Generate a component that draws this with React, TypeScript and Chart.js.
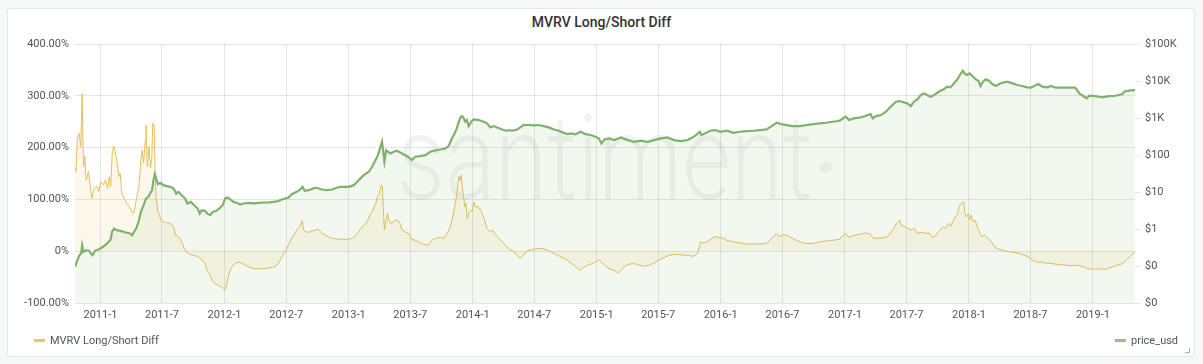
import React, { useEffect, useRef } from "react";
import { Chart, registerables } from "chart.js";
Chart.register(...registerables);

const chartTitle = "MVRV Long/Short Diff";
const watermarkText = "santiment";

const mvrvDates = [
  "2010-10-18","2010-10-21","2010-10-25","2010-10-30","2010-11-04","2010-11-08","2010-11-12","2010-11-16","2010-11-20","2010-11-27",
  "2010-12-02","2010-12-07","2010-12-13","2010-12-21","2010-12-27","2011-01-02","2011-01-10","2011-01-16","2011-01-22","2011-01-27",
  "2011-01-31","2011-02-05","2011-02-09","2011-02-13","2011-02-18","2011-02-24","2011-02-28","2011-03-05","2011-03-12","2011-03-20",
  "2011-03-27","2011-04-04","2011-04-08","2011-04-13","2011-04-18","2011-04-24","2011-04-30","2011-05-04","2011-05-08","2011-05-13",
  "2011-05-15","2011-05-19","2011-05-24","2011-05-28","2011-06-01","2011-06-04","2011-06-08","2011-06-11","2011-06-14","2011-06-18",
  "2011-06-22","2011-06-28","2011-07-05","2011-07-15","2011-07-25","2011-08-04","2011-08-10","2011-08-19","2011-08-28","2011-09-07",
  "2011-09-17","2011-10-02","2011-10-17","2011-10-26","2011-11-05","2011-11-10","2011-11-18","2011-11-25","2011-12-05","2011-12-14",
  "2011-12-24","2011-12-29","2012-01-03","2012-01-06","2012-01-10","2012-01-16","2012-01-23","2012-02-02","2012-02-11","2012-02-21",
  "2012-03-02","2012-03-17","2012-03-31","2012-04-15","2012-04-30","2012-05-15","2012-05-29","2012-06-08","2012-06-18","2012-06-28",
  "2012-07-08","2012-07-17","2012-08-01","2012-08-11","2012-08-17","2012-08-21","2012-08-29","2012-09-09","2012-09-24","2012-10-04",
  "2012-10-14","2012-10-24","2012-11-07","2012-11-22","2012-12-07",
  "2013-01-01","2013-01-16","2013-01-26","2013-02-04","2013-02-14","2013-02-24","2013-03-06","2013-03-13","2013-03-19","2013-03-23",
  "2013-03-26","2013-03-30","2013-04-03","2013-04-07","2013-04-10","2013-04-13","2013-04-16","2013-04-20","2013-04-25","2013-04-29",
  "2013-05-04","2013-05-13","2013-05-23","2013-05-30","2013-06-07","2013-06-17","2013-06-27","2013-07-05","2013-07-16","2013-07-26",
  "2013-08-10","2013-08-23","2013-09-03","2013-09-13","2013-09-28","2013-10-08","2013-10-18","2013-10-27","2013-11-03","2013-11-09",
  "2013-11-14","2013-11-18","2013-11-21","2013-11-25","2013-11-28","2013-12-01","2013-12-05","2013-12-09","2013-12-12","2013-12-16",
  "2013-12-20","2013-12-25","2013-12-30","2014-01-05","2014-01-09","2014-01-17","2014-01-25","2014-02-02","2014-02-12","2014-02-22",
  "2014-03-01","2014-03-07","2014-03-19","2014-04-02","2014-04-17","2014-05-02","2014-05-12","2014-05-21","2014-05-31","2014-06-10",
  "2014-06-25","2014-07-10","2014-07-24","2014-08-13","2014-09-02","2014-09-21","2014-10-06","2014-10-21","2014-11-01","2014-11-12",
  "2014-11-19","2014-12-04","2014-12-19","2014-12-28","2015-01-07",
  "2015-01-24","2015-02-07","2015-02-21","2015-03-06","2015-03-14","2015-03-24","2015-04-07","2015-04-22","2015-05-06","2015-05-21",
  "2015-06-05","2015-06-19","2015-07-04","2015-07-19","2015-08-02","2015-08-17","2015-09-05","2015-09-25","2015-10-14","2015-10-24",
  "2015-10-30","2015-11-03","2015-11-08","2015-11-22","2015-12-07","2015-12-16","2015-12-31","2016-01-10","2016-01-19","2016-02-08",
  "2016-02-27","2016-03-18","2016-04-06","2016-04-26","2016-05-15","2016-05-25","2016-06-04","2016-06-14","2016-06-20","2016-06-28",
  "2016-07-13","2016-07-27","2016-08-11","2016-08-26","2016-09-09","2016-09-29","2016-10-18","2016-11-07","2016-11-26","2016-12-16",
  "2017-01-03","2017-01-08","2017-01-17","2017-02-01","2017-02-16","2017-03-02","2017-03-17",
  "2017-03-25","2017-04-08","2017-04-23","2017-05-07","2017-05-17","2017-05-27","2017-06-06","2017-06-11","2017-06-15","2017-06-25",
  "2017-07-05","2017-07-15","2017-07-24","2017-08-03","2017-08-13","2017-08-23","2017-09-06","2017-09-16","2017-09-26","2017-10-07",
  "2017-10-17","2017-10-25","2017-11-02","2017-11-08","2017-11-15","2017-11-21","2017-11-28","2017-12-03","2017-12-07","2017-12-13",
  "2017-12-17","2017-12-20","2017-12-24","2017-12-30","2018-01-03","2018-01-07","2018-01-13","2018-01-19","2018-01-26","2018-02-01",
  "2018-02-07","2018-02-14","2018-02-21","2018-03-01","2018-03-09","2018-03-16","2018-03-26","2018-04-09","2018-04-29","2018-05-19",
  "2018-06-07","2018-06-27","2018-07-07","2018-07-17","2018-08-01","2018-08-15","2018-09-04","2018-09-24","2018-10-13","2018-11-02",
  "2018-11-17","2018-11-27","2018-12-06","2018-12-16","2018-12-31","2019-01-19","2019-02-07","2019-02-22","2019-03-09","2019-03-29",
  "2019-04-12","2019-04-22","2019-05-05"
];
const mvrvValues = [
  163,154,221,228,202,305,163,183,137,154,
  125,102,121,125,115,134,128,137,121,144,
  125,195,203,192,176,144,150,112,102,92,
  86,76,73,86,105,125,176,195,170,215,
  244,163,202,160,179,247,244,150,105,79,
  73,60,57,55,54,47,31,28,18,2,
  -5,-8,-11,-17,-24,-37,-43,-56,-63,-66,
  -69,-72,-75,-69,-56,-40,-30,-24,-21,-23,
  -27,-32,-34,-34,-34,-32,-30,-24,-11,0,
  12,25,41,50,59,41,37,37,41,42,
  35,31,26,24,23,
  23,26,34,42,50,57,73,79,89,95,
  105,108,118,128,125,79,41,57,73,60,
  54,57,60,57,41,37,34,23,21,18,
  13,12,21,25,26,25,34,47,66,86,
  105,131,144,137,147,125,105,86,92,63,
  73,79,76,95,86,86,79,66,44,37,
  41,34,25,15,5,-1,-8,-14,-8,1,
  3,5,5,1,-6,-12,-17,-25,-30,-37,
  -34,-27,-24,-21,-17,
  -27,-34,-37,-42,-37,-29,-25,-24,-27,-29,
  -27,-23,-17,-12,-8,-6,-7,-8,-10,-5,
  8,18,16,18,25,28,26,25,21,18,
  16,14,14,14,15,21,28,34,28,31,
  31,26,21,17,15,15,18,20,21,23,
  35,28,28,31,33,35,33,
  25,25,26,28,37,47,57,60,50,48,
  44,41,44,34,37,35,35,26,31,41,
  47,44,54,48,57,66,70,86,91,94,
  95,73,66,72,60,70,57,60,47,37,
  28,31,28,23,18,10,5,2,-1,-3,
  -6,-12,-17,-21,-21,-23,-24,-26,-27,-28,
  -27,-30,-30,-34,-35,-34,-35,-32,-28,-24,
  -16,-10,0
];

const priceDates = [
  "2010-10-18","2010-10-23","2010-10-31","2010-11-05","2010-11-08","2010-11-12","2010-11-20","2010-11-28","2010-12-04","2010-12-09",
  "2010-12-16","2010-12-26","2011-01-05","2011-01-15","2011-01-25","2011-01-31","2011-02-04","2011-02-10","2011-02-18","2011-02-28",
  "2011-03-10","2011-03-20","2011-03-29","2011-04-04","2011-04-10","2011-04-16","2011-04-23","2011-04-30","2011-05-08","2011-05-15",
  "2011-05-22","2011-05-27","2011-06-02","2011-06-06","2011-06-10","2011-06-14","2011-06-19","2011-06-26","2011-07-05","2011-07-15",
  "2011-07-25","2011-08-04","2011-08-12","2011-08-19","2011-08-28","2011-09-07","2011-09-14","2011-09-24","2011-10-04","2011-10-14",
  "2011-10-20","2011-10-26","2011-11-05","2011-11-12","2011-11-20","2011-11-28","2011-12-08","2011-12-17","2011-12-27","2012-01-03",
  "2012-01-10","2012-01-18","2012-01-28","2012-02-06","2012-02-16","2012-02-26","2012-03-12","2012-03-27","2012-04-10","2012-04-25",
  "2012-05-10","2012-05-24","2012-06-08","2012-06-18","2012-06-28","2012-07-08","2012-07-17","2012-08-01","2012-08-11","2012-08-18",
  "2012-08-24","2012-09-05","2012-09-19","2012-09-29","2012-10-14","2012-10-28","2012-11-12","2012-11-27","2012-12-07","2013-01-01",
  "2013-01-16","2013-01-30","2013-02-14","2013-03-01","2013-03-11","2013-03-21","2013-03-28","2013-04-03","2013-04-09","2013-04-13",
  "2013-04-16","2013-04-21","2013-04-27","2013-05-04","2013-05-13","2013-05-23","2013-06-07","2013-06-22","2013-07-06","2013-07-16",
  "2013-07-31","2013-08-15","2013-08-29","2013-09-13","2013-09-28","2013-10-13","2013-10-22","2013-11-01","2013-11-09","2013-11-15",
  "2013-11-21","2013-11-27","2013-12-01","2013-12-06","2013-12-10","2013-12-15","2013-12-20","2013-12-28","2014-01-04","2014-01-19",
  "2014-02-02","2014-02-12","2014-02-22","2014-03-04","2014-03-14","2014-03-29","2014-04-09","2014-04-17","2014-04-27","2014-05-12",
  "2014-05-21","2014-05-31","2014-06-15","2014-06-30","2014-07-15","2014-07-29","2014-08-13","2014-08-28","2014-09-11","2014-09-26",
  "2014-10-06","2014-10-19","2014-10-30","2014-11-14","2014-11-29","2014-12-14","2014-12-28","2015-01-07","2015-01-15","2015-01-24",
  "2015-02-07","2015-02-21","2015-03-14","2015-04-02","2015-04-22","2015-05-11","2015-05-31","2015-06-19","2015-07-09","2015-07-28",
  "2015-08-17","2015-09-05","2015-09-25","2015-10-14","2015-11-01","2015-11-05","2015-11-12","2015-12-01","2015-12-16","2015-12-31",
  "2016-01-19","2016-02-08","2016-02-27","2016-03-18","2016-04-06","2016-04-26","2016-05-15","2016-05-30","2016-06-14","2016-06-28",
  "2016-07-13","2016-08-01","2016-08-21","2016-09-09","2016-09-29","2016-10-18","2016-11-07","2016-11-26","2016-12-16","2017-01-03",
  "2017-01-13","2017-01-27","2017-02-16","2017-03-02","2017-03-17","2017-03-24","2017-04-02","2017-04-17","2017-05-02","2017-05-11",
  "2017-05-21","2017-05-31","2017-06-10","2017-06-24","2017-07-04","2017-07-14","2017-07-23","2017-08-02","2017-08-12","2017-08-22",
  "2017-08-31","2017-09-10","2017-09-20","2017-09-30","2017-10-09","2017-10-19","2017-10-29","2017-11-07","2017-11-14","2017-11-22",
  "2017-11-30","2017-12-07","2017-12-14","2017-12-19","2017-12-26","2018-01-03","2018-01-11","2018-01-21","2018-01-29","2018-02-04",
  "2018-02-11","2018-02-19","2018-03-01","2018-03-11","2018-03-21","2018-03-31","2018-04-09","2018-04-24","2018-05-09","2018-05-24",
  "2018-06-07","2018-06-22","2018-07-02","2018-07-12","2018-07-25","2018-08-05","2018-08-20","2018-08-30","2018-09-14","2018-10-04",
  "2018-10-23","2018-11-10","2018-11-22","2018-12-07","2018-12-14","2018-12-21","2019-01-09","2019-01-29","2019-02-17","2019-03-09",
  "2019-03-29","2019-04-03","2019-04-17","2019-05-05"
];
const priceValues = [
  0.095,0.13,0.196,0.217,0.366,0.241,0.267,0.26,0.217,0.196,
  0.26,0.279,0.316,0.366,0.45,0.52,0.84,1.03,0.93,0.89,
  0.84,0.79,0.76,0.68,0.84,1.03,1.56,2.9,4.4,6.7,
  7.4,9.1,11.2,20.9,30.4,23.2,16.3,17.7,15.3,14.4,
  13.8,12.5,9.1,10.1,8.2,6.7,4.9,5.4,4.4,3.6,
  2.6,3.2,3.1,2.6,2.37,2.9,3.1,3.6,4.4,6.7,
  7.1,6.3,5.4,5.1,4.6,4.9,5.1,4.9,5.1,5.2,
  5.2,5.4,5.7,6.3,6.7,7.1,8.7,10.1,11.7,13.8,
  10.8,11.2,12.5,13.0,11.7,11.2,11.7,13.0,13.8,13.8,
  15.3,20.9,28.6,35.2,48,73,99,151,229,110,
  66,134,122,110,122,130,110,93,73,90,
  93,99,122,134,141,151,174,282,384,525,
  795,1080,1120,970,795,880,605,795,910,880,
  795,715,557,605,557,490,453,470,453,490,
  557,646,646,630,646,605,557,490,453,398,
  367,384,360,426,367,347,311,282,206,264,
  281,253,299,253,228,243,228,253,281,299,
  253,238,253,311,425,345,367,453,472,425,
  453,399,425,444,453,472,492,605,745,686,
  644,605,605,644,686,715,745,793,844,1082,
  879,975,1038,1128,1277,975,1128,1199,1479,1820,
  2240,2756,2872,2642,2483,2103,2756,3186,4170,4625,
  4170,3758,4170,4820,5465,5940,7015,6730,7780,9570,
  11780,15420,18990,16080,14500,16080,13620,11060,10180,7310,
  9570,11060,10180,8280,7310,8280,8990,9570,8630,7780,
  7310,6730,6590,7310,8280,7015,6730,7310,6590,6590,
  6590,6590,4625,3758,3390,4000,3920,3605,3920,4000,
  4440,5130,5465,5700
];

const xTickLabels = ["2011-1","2011-7","2012-1","2012-7","2013-1","2013-7","2014-1","2014-7","2015-1","2015-7","2016-1","2016-7","2017-1","2017-7","2018-1","2018-7","2019-1"];
const leftTickValues = [-100, 0, 100, 200, 300, 400];
const rightTickValues = [0.01, 0.1, 1, 10, 100, 1000, 10000, 100000];
const rightTickLabels = ["$0", "$0", "$1", "$10", "$100", "$1K", "$10K", "$100K"];

const mvrvColor = "#E6BE5C";
const mvrvLegendColor = "#EAB839";
const priceColor = "#7EB26D";
const textColor = "#52545c";
const gridColor = "rgba(0,0,0,0.1)";

const toTs = (d: string) => Date.parse(d + "T00:00:00Z");
const tickTs = (l: string) => {
  const [y, m] = l.split("-").map(Number);
  return Date.UTC(y, m - 1, 1);
};

const watermarkPlugin = {
  id: "watermark",
  beforeDatasetsDraw(chart: any) {
    const ctx = chart.ctx;
    ctx.save();
    ctx.font = "300 118px Roboto";
    ctx.fillStyle = "rgba(0,0,0,0.05)";
    ctx.textBaseline = "alphabetic";
    const w = ctx.measureText(watermarkText).width;
    const target = 416;
    ctx.translate(397, 199);
    ctx.scale(target / w, 1);
    ctx.fillText(watermarkText, 0, 0);
    ctx.restore();
    ctx.save();
    ctx.fillStyle = "rgba(0,0,0,0.05)";
    ctx.beginPath();
    ctx.arc(826, 167, 6, 0, Math.PI * 2);
    ctx.fill();
    ctx.restore();
  },
};

export default function App() {
  const canvasRef = useRef<HTMLCanvasElement | null>(null);

  useEffect(() => {
    const canvas = canvasRef.current;
    if (!canvas) return;
    Chart.defaults.font.family = "Roboto, 'Helvetica Neue', Arial, sans-serif";
    Chart.defaults.font.size = 11;
    Chart.defaults.color = textColor;

    const chart = new Chart(canvas, {
      type: "line",
      data: {
        datasets: [
          {
            label: "price_usd",
            data: priceDates.map((d, i) => ({ x: toTs(d), y: priceValues[i] })),
            yAxisID: "yR",
            borderColor: priceColor,
            backgroundColor: "rgba(126,178,109,0.1)",
            borderWidth: 2.2,
            fill: "start",
            pointRadius: 0,
            tension: 0,
          },
          {
            label: "MVRV Long/Short Diff",
            data: mvrvDates.map((d, i) => ({ x: toTs(d), y: mvrvValues[i] })),
            yAxisID: "yL",
            borderColor: mvrvColor,
            backgroundColor: "rgba(234,184,57,0.1)",
            borderWidth: 1,
            fill: "origin",
            pointRadius: 0,
            tension: 0,
          },
        ],
      },
      options: {
        animation: false,
        responsive: false,
        maintainAspectRatio: false,
        layout: { padding: { top: 44, left: 0, right: 0, bottom: 0 } },
        plugins: {
          legend: { display: false },
          tooltip: { enabled: false },
          title: { display: false },
        },
        scales: {
          x: {
            type: "linear",
            min: toTs(mvrvDates[0]),
            max: toTs(mvrvDates[mvrvDates.length - 1]),
            afterBuildTicks: (s: any) => {
              s.ticks = xTickLabels.map((l) => ({ value: tickTs(l) }));
            },
            afterFit: (s: any) => {
              s.height = 61;
            },
            ticks: {
              autoSkip: false,
              maxRotation: 0,
              padding: 6,
              color: textColor,
              callback: (_v: any, i: number) => xTickLabels[i],
            },
            grid: { color: gridColor, drawTicks: false },
            border: { display: false },
          },
          yL: {
            type: "linear",
            position: "left",
            min: -100,
            max: 400,
            afterBuildTicks: (s: any) => {
              s.ticks = leftTickValues.map((v) => ({ value: v }));
            },
            afterFit: (s: any) => {
              s.width = 75;
            },
            ticks: {
              padding: 6,
              color: textColor,
              callback: (v: any) => (v === 0 ? "0%" : Number(v).toFixed(2) + "%"),
            },
            grid: { color: gridColor, drawTicks: false },
            border: { display: false },
          },
          yR: {
            type: "logarithmic",
            position: "right",
            min: 0.01,
            max: 100000,
            afterBuildTicks: (s: any) => {
              s.ticks = rightTickValues.map((v) => ({ value: v }));
            },
            afterFit: (s: any) => {
              s.width = 68;
            },
            ticks: {
              padding: 5,
              color: textColor,
              callback: (_v: any, i: number) => rightTickLabels[i],
            },
            grid: { drawOnChartArea: false, drawTicks: true, tickLength: 5, color: gridColor },
            border: { display: false },
          },
        },
      },
      plugins: [watermarkPlugin],
    } as any);
    return () => chart.destroy();
  }, []);

  const font = "Roboto, 'Helvetica Neue', Arial, sans-serif";
  return (
    <div style={{ position: "fixed", left: 0, top: 0, width: 1203, height: 364, background: "#f7f8fa", overflow: "hidden", fontFamily: font }}>
      <div style={{ position: "absolute", left: 7, top: 8, width: 1188, height: 349, boxSizing: "border-box", background: "#fff", border: "1px solid #e3e6eb", borderRadius: 3 }} />
      <div style={{ position: "absolute", left: 0, top: 14, width: 1203, textAlign: "center", fontSize: 14, fontWeight: 500, color: "#333", lineHeight: "16px" }}>
        {chartTitle}
      </div>
      <canvas ref={canvasRef} width={1203} height={364} style={{ position: "absolute", left: 0, top: 0, width: 1203, height: 364 }} />
      <div style={{ position: "absolute", left: 34, top: 333, height: 14, display: "flex", alignItems: "center", fontSize: 11, color: textColor, whiteSpace: "nowrap" }}>
        <span style={{ display: "inline-block", width: 11, height: 3, background: mvrvLegendColor, opacity: 0.8, marginRight: 5 }} />
        <span>MVRV Long/Short Diff</span>
      </div>
      <div style={{ position: "absolute", left: 1115, top: 333, height: 14, display: "flex", alignItems: "center", fontSize: 11, color: textColor, whiteSpace: "nowrap" }}>
        <span style={{ display: "inline-block", width: 11, height: 3, background: priceColor, opacity: 0.8, marginRight: 5 }} />
        <span>price_usd</span>
      </div>
      <div style={{ position: "absolute", left: 1185, top: 348, width: 4, height: 4, borderRight: "1px solid #b0b4ba", borderBottom: "1px solid #b0b4ba" }} />
    </div>
  );
}
